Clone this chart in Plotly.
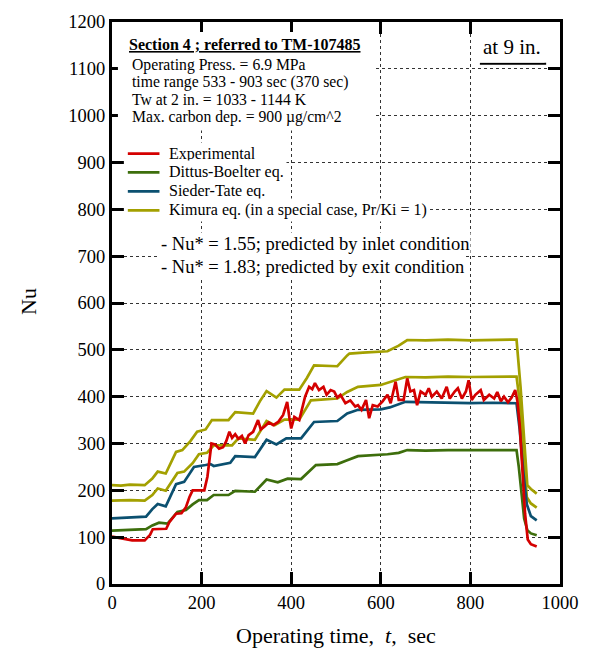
import plotly.graph_objects as go

# ---------------- data ----------------
t_kim_hi = [0, 20, 40, 73, 90, 102, 120, 143, 157, 175, 190, 209, 223, 240, 260, 275, 295, 315, 330, 345,
            367, 385, 418, 435, 451, 480, 503, 525, 530, 560, 615, 640, 659, 700, 750, 800, 850, 903, 912, 920,
            927, 935, 948]
nu_kim_hi = [211, 210, 212, 211, 225, 240, 236, 282, 286, 305, 325, 330, 350, 350, 350, 367, 366, 364, 390, 412,
             398, 415, 415, 440, 467, 466, 465, 488, 492, 494, 497, 509, 521, 520, 522, 520, 521, 522, 420, 300,
             211, 203, 193]

t_kim_lo = [0, 40, 73, 90, 102, 120, 146, 161, 180, 194, 212, 227, 250, 268, 282, 300, 319, 345, 363, 385,
            418, 444, 470, 503, 525, 549, 600, 633, 655, 700, 750, 800, 850, 903, 910, 918, 926, 935, 948]
nu_kim_lo = [178, 179, 178, 190, 204, 199, 237, 240, 258, 277, 280, 296, 296, 296, 311, 309, 308, 348, 339, 351,
             351, 392, 394, 396, 410, 421, 425, 435, 442, 441, 443, 442, 442, 443, 390, 280, 185, 172, 163]

t_st = [0, 40, 76, 90, 102, 120, 143, 161, 183, 209, 220, 227, 264, 275, 300, 319, 345, 367, 389, 422,
        451, 480, 503, 525, 549, 600, 620, 655, 700, 750, 800, 850, 903, 910, 918, 926, 935, 948]
nu_st = [140, 142, 144, 160, 171, 166, 213, 218, 250, 254, 256, 252, 259, 273, 272, 271, 308, 298, 311, 311,
         346, 347, 348, 364, 372, 373, 377, 389, 388, 387, 386, 387, 386, 330, 240, 170, 145, 136]

t_db = [0, 40, 76, 90, 105, 124, 146, 165, 180, 194, 212, 227, 260, 275, 300, 319, 345, 370, 392, 422,
        455, 480, 503, 525, 549, 615, 640, 659, 700, 750, 800, 850, 903, 908, 914, 920, 927, 935, 948]
nu_db = [114, 116, 117, 125, 131, 129, 154, 158, 170, 179, 179, 190, 190, 199, 198, 197, 223, 217, 225, 224,
         254, 255, 256, 264, 273, 277, 280, 286, 285, 286, 286, 285, 286, 250, 190, 140, 115, 108, 104]

t_exp = [0, 20, 33, 45, 73, 85, 91, 105, 121, 128, 143, 155, 165, 173, 180, 195, 206, 213, 217, 222,
         230, 239, 248, 255, 262, 268, 275, 282, 290, 297, 305, 315, 326, 332, 340, 350, 360, 371, 382, 391,
         396, 400, 407, 418, 431, 440, 447, 453, 462, 472, 479, 488, 496, 503, 510, 521, 532, 543, 549, 557,
         567, 574, 582, 593, 604, 615, 622, 633, 640, 651, 659, 666, 674, 681, 689, 700, 707, 714, 725, 736,
         747, 754, 765, 772, 781, 790, 796, 803, 811, 823, 830, 842, 853, 860, 868, 875, 884, 892, 900, 905,
         910, 916, 922, 928, 935, 948]
nu_exp = [101, 98, 96, 93, 93, 105, 117, 118, 118, 132, 150, 151, 164, 186, 200, 200, 200, 229, 257, 300,
          298, 289, 292, 305, 325, 312, 320, 310, 316, 300, 318, 325, 350, 330, 336, 345, 339, 346, 361, 389,
          355, 332, 357, 350, 400, 421, 416, 429, 414, 421, 404, 414, 411, 398, 404, 386, 392, 379, 382, 372,
          393, 354, 382, 379, 390, 404, 386, 432, 393, 393, 439, 411, 414, 382, 411, 404, 418, 400, 411, 396,
          421, 396, 411, 418, 396, 411, 435, 393, 404, 414, 393, 404, 396, 410, 390, 400, 388, 398, 414, 390,
          340, 250, 150, 95, 85, 80]

x_ticks = [0, 200, 400, 600, 800, 1000]
y_ticks = list(range(0, 1201, 100))

series = [
    ("Kimura eq. (in a special case, Pr/Ki = 1)", t_kim_hi, nu_kim_hi, "#a3a000"),
    ("Kimura eq. (in a special case, Pr/Ki = 1)", t_kim_lo, nu_kim_lo, "#a3a000"),
    ("Sieder-Tate eq.", t_st, nu_st, "#0b5070"),
    ("Dittus-Boelter eq.", t_db, nu_db, "#3d6e0c"),
    ("Experimental", t_exp, nu_exp, "#d40000"),
]
legend_items = [("Experimental", "#d40000"), ("Dittus-Boelter eq.", "#3d6e0c"),
                ("Sieder-Tate eq.", "#0b5070"), ("Kimura eq. (in a special case, Pr/Ki = 1)", "#a3a000")]

info_lines = ["Operating Press. = 6.9 MPa", "time range 533 - 903 sec (370 sec)",
              "Tw at 2 in. = 1033 - 1144 K", "Max. carbon dep. = 900 \u00b5g/cm^2"]
nu_lines = ["- Nu* = 1.55; predicted by inlet condition", "- Nu* = 1.83; predicted by exit condition"]

# ---------------- layout helpers ----------------
W, H = 591, 651
L, R, T, B = 112, 26, 20, 67
PW, PH = W - L - R, H - T - B
FONT = "Liberation Serif"


def px(x):
    return (x - L) / PW


def py(y):
    return (H - B - y) / PH


def note(x, y, text, size, xanchor="left", **kw):
    d = dict(xref="paper", yref="paper", x=px(x), y=py(y), text=text, xanchor=xanchor, yanchor="middle",
             showarrow=False, font=dict(size=size, family=FONT, color="black"))
    d.update(kw)
    return d


fig = go.Figure()
for name, t, v, c in series:
    fig.add_trace(go.Scatter(x=t, y=v, mode="lines", name=name, showlegend=False,
                             line=dict(color=c, width=2.7)))

ann = []
shapes = []

# white box behind the info block
shapes.append(dict(type="rect", xref="paper", yref="paper", x0=px(118), x1=px(376), y0=py(129), y1=py(30),
                   fillcolor="white", line=dict(width=0), layer="above"))
ann.append(note(127, 43, "<b><u>Section 4 ; referred to TM-107485</u></b>", 16))
for i, s in enumerate(info_lines):
    ann.append(note(130, 63 + i * 17.6, s, 15.7))

# legend (manual)
for i, (s, c) in enumerate(legend_items):
    yy = 152 + i * 19
    shapes.append(dict(type="rect", xref="paper", yref="paper", x0=px(124), x1=px(168), y0=py(yy + 9.5),
                       y1=py(yy - 9.5), fillcolor="white", line=dict(width=0), layer="above"))
    shapes.append(dict(type="line", xref="paper", yref="paper", x0=px(128), x1=px(160), y0=py(yy), y1=py(yy),
                       line=dict(color=c, width=2.7), layer="above"))
    ann.append(note(167, yy, s, 16, bgcolor="white", borderpad=2))

for i, s in enumerate(nu_lines):
    ann.append(note(160, 243 + i * 22.5, s, 18.5, bgcolor="white", borderpad=1))

# "at 9 in." label
ann.append(note(516, 45, "at 9 in.", 21, xanchor="center", bgcolor="white", borderpad=3))
shapes.append(dict(type="line", xref="paper", yref="paper", x0=px(484), x1=px(551), y0=py(62), y1=py(62),
                   line=dict(color="black", width=2), layer="above"))

# axis titles
ann.append(note(27, 300, "Nu", 22, xanchor="center", textangle=-90))
ann.append(note(338, 636, "Operating time,\u00a0 <i>t</i>,\u00a0 sec", 22, xanchor="center"))

axis_common = dict(showline=True, linecolor="black", linewidth=3, mirror="ticks", ticks="inside",
                   ticklen=12, tickwidth=3, tickcolor="black", showgrid=True, gridcolor="#333",
                   gridwidth=1, griddash="dot", zeroline=False,
                   tickfont=dict(size=18.5, family=FONT, color="black"))

fig.update_xaxes(range=[0, 1000], tickvals=x_ticks, ticktext=[str(v) for v in x_ticks], **axis_common)
fig.update_yaxes(range=[0, 1200], tickvals=y_ticks, ticktext=[str(v) for v in y_ticks], **axis_common)

fig.update_layout(width=W, height=H, margin=dict(l=L, r=R, t=T, b=B), paper_bgcolor="white",
                  plot_bgcolor="white", annotations=ann, shapes=shapes, showlegend=False,
                  font=dict(family=FONT, color="black"))

fig.write_html("out.html")
